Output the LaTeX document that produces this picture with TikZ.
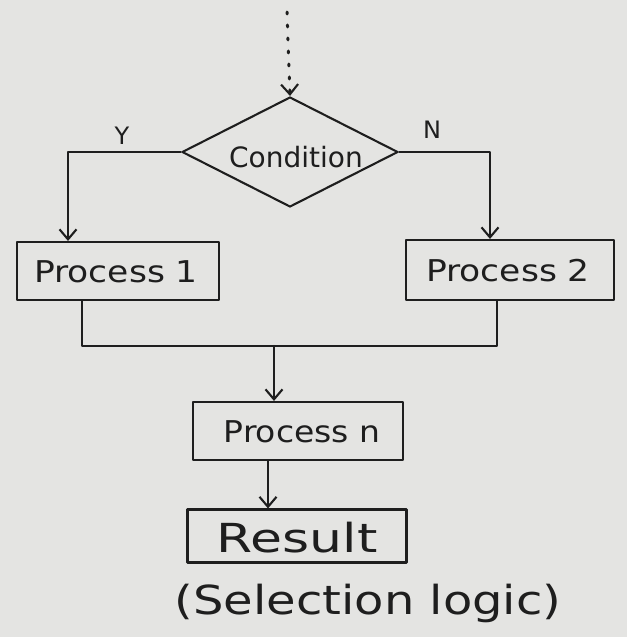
\documentclass[tikz,border=0pt]{standalone}
\usepackage{fontspec}
\setmainfont{DejaVu Sans}
\usetikzlibrary{shapes.geometric,arrows.meta}
\definecolor{paper}{HTML}{E4E4E2}
\definecolor{ink}{HTML}{1E1E1E}
\tikzset{
  inkline/.style={draw=ink, line width=2.1pt, line cap=round, line join=round},
  flow/.style={inkline, -{Straight Barb[length=10pt,width=17pt,line width=2.1pt]}},
  procbox/.style={inkline, rectangle, inner sep=0pt},
  decision/.style={inkline, diamond, inner sep=0pt},
  hand/.style={text=ink, inner sep=0pt},
  handfont/.style={font=\fontsize{#1}{#1}\selectfont},
}
\begin{document}
\begin{tikzpicture}[x=1pt,y=-1pt]
  % paper
  \fill[paper] (0,0) rectangle (627,637);
  \useasboundingbox (0,0) rectangle (627,637);

  % decision
  \node[decision, minimum width=216pt, minimum height=110pt] (cond) at (290,152) {};
  \node[hand, handfont=28] (condtxt) at (296,157) {Condition};

  % process boxes
  \node[procbox, minimum width=202pt, minimum height=58pt] (p1) at (118,271) {};
  \node[hand, handfont=30] (p1txt) at (116,272) {\scalebox{1.15}[1]{Process 1}};
  \node[procbox, minimum width=208pt, minimum height=60pt] (p2) at (510,270) {};
  \node[hand, handfont=30] (p2txt) at (508,271) {\scalebox{1.15}[1]{Process 2}};
  \node[procbox, minimum width=210pt, minimum height=58pt] (pn) at (298,431) {};
  \node[hand, handfont=30] (pntxt) at (302,432) {\scalebox{1.1}[1]{Process n}};
  \node[procbox, minimum width=219pt, minimum height=53pt] (res) at (297,536) {};
  \node[hand, handfont=40] (restxt) at (297,538) {\scalebox{1.3}[1]{Result}};

  % branch labels
  \node[hand, handfont=24] (ylab) at (122,136) {Y};
  \node[hand, handfont=24] (nlab) at (432,130) {N};

  % caption
  \node[hand, handfont=40] (caption) at (368,603) {\scalebox{1.2}[1]{(Selection logic)}};

  % incoming dotted flow
  \coordinate (entry) at (287,12);
  \draw[flow, dash pattern=on 2pt off 11pt, line width=3pt] (entry) -- (cond.north);

  % branches
  \draw[flow] (cond.west) -| ([xshift=-50pt]p1.north);
  \draw[flow] (cond.east) -| ([xshift=-20pt]p2.north);

  % merge
  \coordinate (merge) at (274,346);
  \draw[inkline] ([xshift=-36pt]p1.south) |- (merge) -| ([xshift=-13pt]p2.south);
  \draw[flow] (merge) -- (pn.north -| merge);
  \draw[flow] ([xshift=-30pt]pn.south) -- ([xshift=-30pt]pn.south |- res.north);
\end{tikzpicture}
\end{document}
